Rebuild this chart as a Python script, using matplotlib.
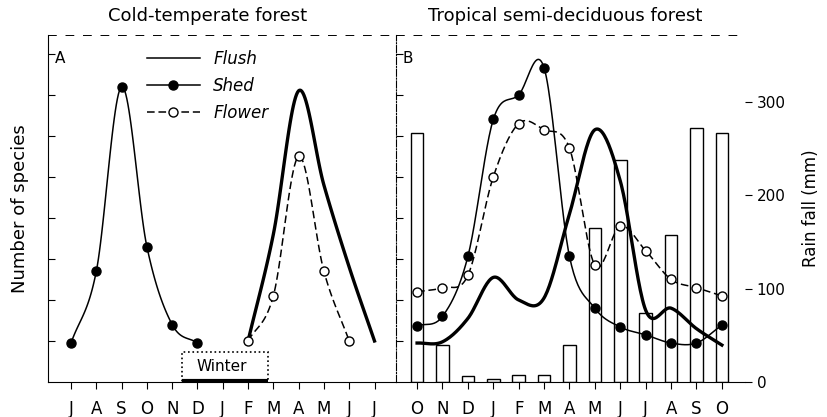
import numpy as np
import matplotlib
matplotlib.use("Agg")
import matplotlib.pyplot as plt
from matplotlib.patches import Rectangle

plt.rcParams['font.family'] = ['DejaVu Sans']
plt.rcParams['font.size'] = 12

# --- data ---
months_a = ['J', 'A', 'S', 'O', 'N', 'D', 'J', 'F', 'M', 'A', 'M', 'J', 'J']
shed_a_idx = [0, 1, 2, 3, 4, 5]
shed_a = [0.95, 2.7, 7.2, 3.3, 1.4, 0.95]
flush_a_idx = [7, 8, 9, 10, 11, 12]
flush_a = [1.0, 3.6, 7.1, 4.8, 2.8, 1.0]
flower_a_idx = [7, 8, 9, 10, 11]
flower_a = [1.0, 2.1, 5.5, 2.7, 1.0]

months_b = ['O', 'N', 'D', 'J', 'F', 'M', 'A', 'M', 'J', 'J', 'A', 'S', 'O']
flush_b = [0.95, 0.98, 1.55, 2.55, 2.0, 2.05, 4.1, 6.15, 4.9, 1.75, 1.8, 1.3, 0.9]
shed_b = [1.37, 1.6, 3.06, 6.4, 7.0, 7.66, 3.06, 1.8, 1.34, 1.15, 0.95, 0.95, 1.39]
flower_b = [2.2, 2.3, 2.6, 5.0, 6.3, 6.15, 5.7, 2.85, 3.8, 3.2, 2.5, 2.3, 2.1]
rain_b = [267, 40, 6, 3, 8, 8, 40, 165, 238, 74, 158, 272, 267]


def smooth(x, y, n=24):
    # Catmull-Rom curve through the read points, for drawing only
    x = np.asarray(x, float)
    y = np.asarray(y, float)
    px = np.r_[2 * x[0] - x[1], x, 2 * x[-1] - x[-2]]
    py = np.r_[2 * y[0] - y[1], y, 2 * y[-1] - y[-2]]
    t = np.linspace(0, 1, n, endpoint=False)
    xs, ys = [], []
    for i in range(1, len(px) - 2):
        for p, out in ((px, xs), (py, ys)):
            p0, p1, p2, p3 = p[i - 1:i + 3]
            out.append(0.5 * (2 * p1 + (-p0 + p2) * t
                              + (2 * p0 - 5 * p1 + 4 * p2 - p3) * t ** 2
                              + (-p0 + 3 * p1 - 3 * p2 + p3) * t ** 3))
    xs.append([x[-1]])
    ys.append([y[-1]])
    return np.concatenate(xs), np.concatenate(ys)


fig = plt.figure(figsize=(8.27, 4.17), dpi=100)
axA = fig.add_axes([48 / 827, 1 - 382 / 417, 348 / 827, 347 / 417])
axB = fig.add_axes([396 / 827, 1 - 382 / 417, 349 / 827, 347 / 417])

thick = dict(color='black', lw=2.4)
thin = dict(color='black', lw=1.1)
dash = dict(color='black', lw=1.1, ls=(0, (5, 2.5)))

# panel A
xs, ys = smooth(shed_a_idx, shed_a)
axA.plot(xs, ys, **thin)
axA.plot(shed_a_idx, shed_a, 'o', color='black', ms=6.5)
xs, ys = smooth(flush_a_idx, flush_a)
axA.plot(xs, ys, **thick)
xs, ys = smooth(flower_a_idx, flower_a)
axA.plot(xs, ys, **dash)
axA.plot(flower_a_idx, flower_a, 'o', mfc='white', mec='black', ms=6.5, mew=1)

axA.add_patch(Rectangle((4.39, 0), 3.4, 0.73, fill=False, ls=':', lw=1.2,
                        ec='black', clip_on=False))
axA.plot([4.39, 7.79], [0.02, 0.02], color='black', lw=3, solid_capstyle='butt')
axA.text(5.97, 0.38, 'Winter', ha='center', va='center', fontsize=11)

axA.set_xlim(-0.91, 12.85)
axA.set_ylim(0, 8.46)
axA.set_xticks(range(len(months_a)))
axA.set_xticklabels(months_a)
axA.set_yticks(range(1, 9))
axA.set_yticklabels([])
axA.tick_params(axis='y', direction='in', length=5)
axA.tick_params(axis='x', direction='out', length=5, pad=8)
axA.spines['right'].set_visible(False)
axA.spines['top'].set_linestyle((0, (8, 10)))
axA.spines['top'].set_linewidth(0.7)
axA.set_ylabel('Number of species', labelpad=10, fontsize=13)
axA.text(0.02, 0.955, 'A', transform=axA.transAxes, fontsize=11, va='top')

# legend (drawn in panel A)
h1, = axA.plot([], [], **thin)
h2, = axA.plot([], [], 'o-', color='black', lw=1.1, ms=6.5)
h3, = axA.plot([], [], 'o', mfc='white', mec='black', ms=6.5, ls=(0, (5, 2.5)),
               color='black', lw=1.1)
leg = axA.legend([h1, h2, h3], ['Flush', 'Shed', 'Flower'], loc='upper left',
                 bbox_to_anchor=(0.24, 1.0), frameon=False, handlelength=3.2,
                 labelspacing=0.55, prop={'style': 'italic', 'size': 12})

# panel B
ax2 = axB.twinx()
bx = np.arange(len(months_b))
ax2.bar(bx, rain_b, width=0.5, fill=False, edgecolor='black', lw=1)
ax2.set_ylim(0, 372)
ax2.set_yticks([0, 100, 200, 300])
ax2.tick_params(axis='y', direction='out', length=5, labelsize=11)
for s in ('right', 'top', 'left', 'bottom'):
    ax2.spines[s].set_visible(False)
ax2.set_ylabel('Rain fall (mm)', labelpad=12, fontsize=12)
axB.set_zorder(ax2.get_zorder() + 1)
axB.patch.set_visible(False)

xs, ys = smooth(bx, flush_b)
axB.plot(xs, ys, **thick)
xs, ys = smooth(bx, shed_b)
axB.plot(xs, ys, **thin)
axB.plot(bx, shed_b, 'o', color='black', ms=6.5)
xs, ys = smooth(bx, flower_b)
axB.plot(xs, ys, **dash)
axB.plot(bx, flower_b, 'o', mfc='white', mec='black', ms=6.5, mew=1)

axB.set_xlim(-0.83, 12.91)
axB.set_ylim(0, 8.46)
axB.set_xticks(bx)
axB.set_xticklabels(months_b)
axB.set_yticks(range(1, 9))
axB.set_yticklabels([])
axB.tick_params(axis='y', direction='in', length=5)
axB.tick_params(axis='x', direction='out', length=5, pad=8)
axB.spines['right'].set_visible(False)
axB.spines['left'].set_linestyle('-.')
axB.spines['top'].set_linestyle((0, (8, 10)))
axB.spines['top'].set_linewidth(0.7)
axB.text(0.02, 0.955, 'B', transform=axB.transAxes, fontsize=11, va='top')

fig.text(208 / 827, 1 - 16 / 417, 'Cold-temperate forest', ha='center', va='center',
         fontsize=13)
fig.text(565 / 827, 1 - 16 / 417, 'Tropical semi-deciduous forest', ha='center',
         va='center', fontsize=13)

fig.savefig('out.png', dpi=100)
